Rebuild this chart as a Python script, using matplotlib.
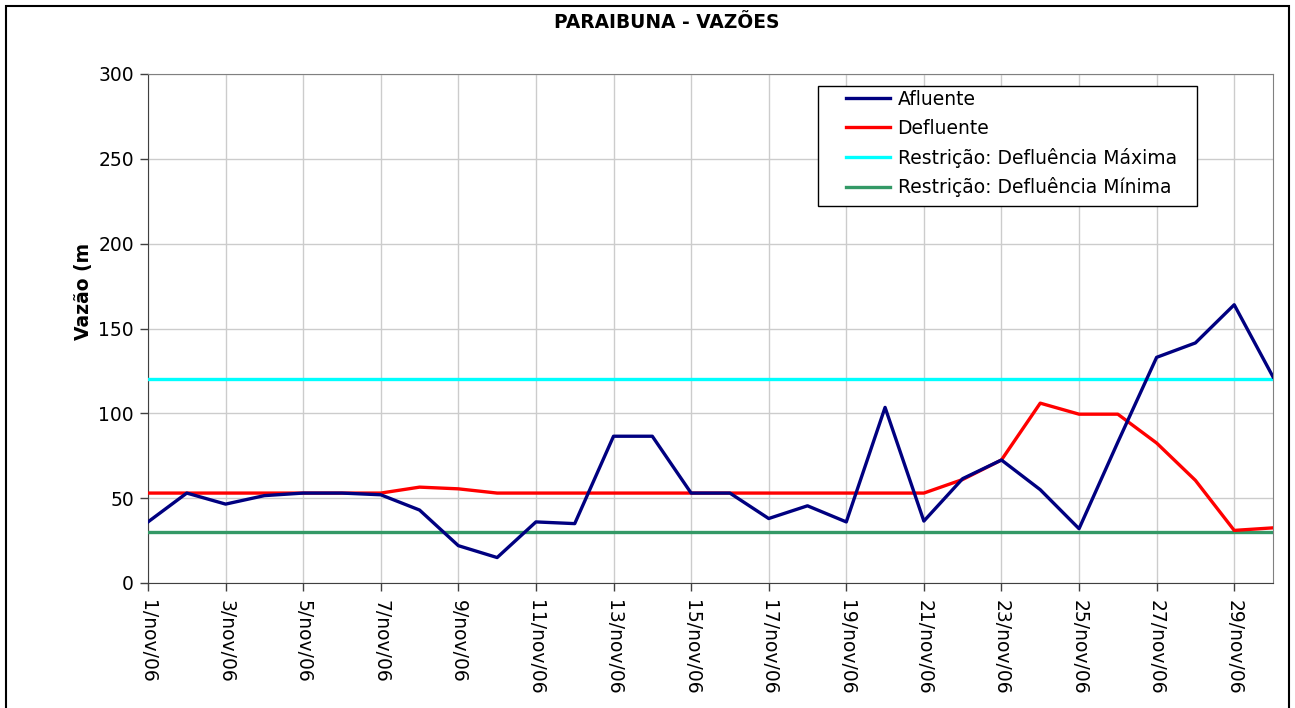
import matplotlib
matplotlib.use('Agg')
import matplotlib.pyplot as plt
from matplotlib.patches import Rectangle
from matplotlib.transforms import Bbox

plt.rcParams['font.family'] = ['DejaVu Sans']

# data
days = list(range(1, 31))
afluente = [36, 53, 46.5, 51.5, 53, 53, 52, 43, 22, 15,
            36, 35, 86.5, 86.5, 53, 53, 38, 45.5, 36, 103.5,
            36.5, 61.5, 72.5, 55, 32, 83, 133, 141.5, 164, 121.5]
defluente = [53, 53, 53, 53, 53, 53, 53, 56.5, 55.5, 53,
             53, 53, 53, 53, 53, 53, 53, 53, 53, 53,
             53, 61, 72.5, 106, 99.5, 99.5, 82.5, 60.5, 31, 32.5]
defl_max = [120] * 30
defl_min = [30] * 30
tick_days = list(range(1, 31, 2))
tick_labels = ['%d/nov/06' % d for d in tick_days]

W, H = 1295, 708
fig = plt.figure(figsize=(W / 100, H / 100), dpi=100)
ax = fig.add_axes([148 / W, 1 - 583 / H, (1273 - 148) / W, (583 - 74) / H])

lw = 2.4
ax.plot(days, afluente, color='#000080', lw=lw, label='Afluente', zorder=5)
ax.plot(days, defluente, color='#FF0000', lw=lw, label='Defluente', zorder=4)
ax.plot(days, defl_max, color='#00FFFF', lw=lw, label='Restrição: Defluência Máxima', zorder=3)
ax.plot(days, defl_min, color='#339966', lw=lw, label='Restrição: Defluência Mínima', zorder=3)

ax.set_xlim(1, 30)
ax.set_ylim(0, 300)
ax.set_yticks(range(0, 301, 50))
ax.set_xticks(tick_days)
ax.set_xticklabels(tick_labels, rotation=270, ha='center', va='top')
ax.tick_params(axis='both', labelsize=13.5, direction='out', length=6, width=1, color='#404040')
ax.tick_params(axis='x', pad=6)
ax.tick_params(axis='y', pad=4)
ax.grid(True, color='#cccccc', lw=1)
ax.set_axisbelow(True)
for s in ['top', 'right']:
    ax.spines[s].set_color('#808080')
for s in ['left', 'bottom']:
    ax.spines[s].set_color('#404040')

# legend box drawn separately so the inner padding can match
box = Rectangle((818 / W, 1 - 206 / H), (1197 - 818) / W, (206 - 86) / H,
                transform=fig.transFigure, facecolor='white', edgecolor='black', lw=1, zorder=6)
ax.add_patch(box)
box.set_clip_on(False)
leg = ax.legend(loc='upper left', bbox_to_anchor=(846 / W, 1 - 90 / H),
                bbox_transform=fig.transFigure,
                fontsize=13.5, frameon=False,
                handlelength=2.35, handletextpad=0.4, borderpad=0, labelspacing=0.52,
                borderaxespad=0)
leg.set_zorder(7)

fig.text(667 / W, 1 - 22 / H, 'PARAIBUNA - VAZÕES', ha='center', va='center',
         fontsize=13.4, fontweight='bold')

yl = fig.text(83 / W, 1 - 340 / H, 'Vazão (m³/s)', rotation=90, ha='center', va='bottom',
              fontsize=13.5, fontweight='bold')
yl.set_clip_box(Bbox([[0, 0], [W, H - 243]]))
yl.set_clip_on(True)

fig.patches.append(Rectangle((6 / W, -0.02), (1289 - 6) / W, 1.02 - 6 / H,
                             transform=fig.transFigure, fill=False, edgecolor='black', lw=1.5))

fig.savefig('out.png', dpi=100)
